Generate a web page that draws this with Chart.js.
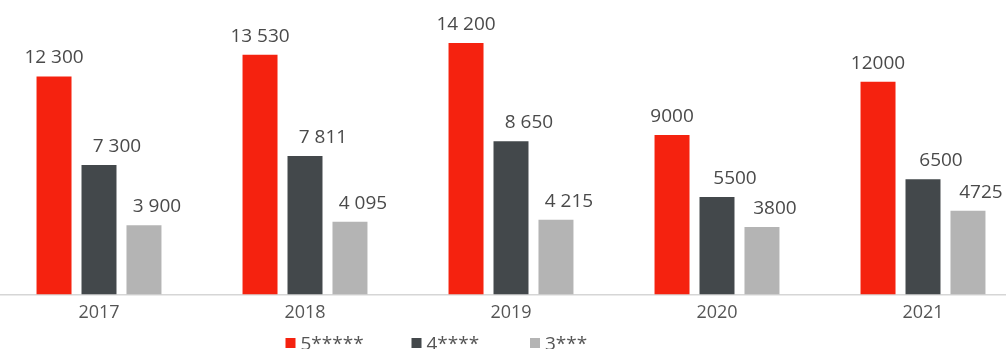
<!DOCTYPE html>
<html>
<head>
<meta charset="utf-8">
<script src="https://cdn.jsdelivr.net/npm/chart.js@4"></script>
<style>
  html, body { margin: 0; padding: 0; background: #fff; overflow: hidden; }
  #wrap { position: absolute; left: -4px; top: 0; width: 1030px; height: 349px; }
</style>
</head>
<body>
<div id="wrap"><canvas id="chart"></canvas></div>
<script>
// ── Data ──────────────────────────────────────────────────
const years   = ['2017', '2018', '2019', '2020', '2021'];
const fiveStar  = [12300, 13530, 14200, 9000, 12000];
const fourStar  = [7300, 7811, 8650, 5500, 6500];
const threeStar = [3900, 4095, 4215, 3800, 4725];
const seriesNames = ['5*****', '4****', '3***'];
const spacedYears = ['2017', '2018', '2019']; // these years print "12 300" style

const RED  = '#f5220f';
const DARK = '#43484b';
const GREY = '#b4b4b4';
const FONT = "'Open Sans', 'Noto Sans', sans-serif";

// ── Helpers ───────────────────────────────────────────────
const fmt = (v, year) => spacedYears.includes(year)
  ? String(v).replace(/\B(?=(\d{3})+(?!\d))/g, ' ')
  : String(v);

// value labels above each bar
const valueLabels = {
  id: 'valueLabels',
  afterDatasetsDraw(chart, args, opts) {
    const { ctx } = chart;
    ctx.save();
    ctx.font = '19px ' + FONT;
    ctx.fillStyle = '#4a4a4a';
    ctx.textAlign = 'center';
    ctx.textBaseline = 'bottom';
    chart.data.datasets.forEach((ds, di) => {
      chart.getDatasetMeta(di).data.forEach((bar, i) => {
        const txt = fmt(ds.data[i], chart.data.labels[i]);
        ctx.fillText(txt, bar.x + opts.shift[di], bar.y - 9);
      });
    });
    ctx.restore();
  }
};

// flat legend row under the axis
const bottomLegend = {
  id: 'bottomLegend',
  afterDraw(chart, args, opts) {
    const { ctx } = chart;
    ctx.save();
    ctx.font = '19px ' + FONT;
    ctx.textBaseline = 'alphabetic';
    chart.data.datasets.forEach((ds, di) => {
      const x = opts.xs[di];
      ctx.fillStyle = ds.backgroundColor;
      ctx.fillRect(x, 338, 10, 10);
      ctx.fillStyle = '#555';
      ctx.fillText(ds.label, x + 15, 350);
    });
    ctx.restore();
  }
};

new Chart(document.getElementById('chart'), {
  type: 'bar',
  data: {
    labels: years,
    datasets: [
      { label: seriesNames[0], data: fiveStar,  backgroundColor: RED  },
      { label: seriesNames[1], data: fourStar,  backgroundColor: DARK },
      { label: seriesNames[2], data: threeStar, backgroundColor: GREY },
    ]
  },
  options: {
    responsive: true,
    maintainAspectRatio: false,
    animation: false,
    layout: { padding: { top: 11, bottom: 25, left: 0, right: 0 } },
    datasets: {
      bar: { categoryPercentage: 0.655, barPercentage: 0.778 }
    },
    plugins: {
      legend: { display: false },
      tooltip: { enabled: false },
      valueLabels: { shift: [0, 18, 13] },
      bottomLegend: { xs: [289.5, 415.5, 534] },
    },
    scales: {
      x: {
        grid: { display: false },
        border: { display: true, color: '#d6d6d6', width: 1.5 },
        ticks: { color: '#555', font: { family: FONT, size: 18 }, padding: 0 }
      },
      y: {
        display: false,
        min: 0,
        max: 16000
      }
    }
  },
  plugins: [valueLabels, bottomLegend]
});
</script>
</body>
</html>
